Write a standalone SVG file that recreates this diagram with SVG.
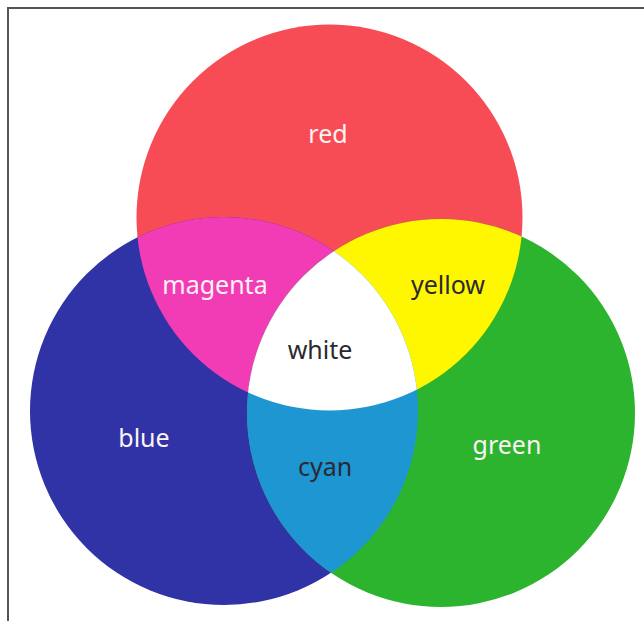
<svg xmlns="http://www.w3.org/2000/svg" width="644" height="621" viewBox="0 0 644 621">
<style>
.lbl{font-family:"Noto Sans","Open Sans","Liberation Sans",sans-serif;font-size:25px;text-anchor:middle}
.lt{fill:#fbf2f4}
.dk{fill:#2a2a30}
</style>
<defs>
<clipPath id="cRed"><circle cx="329.5" cy="217.5" r="193"/></clipPath>
<clipPath id="cBlue"><circle cx="224" cy="411" r="194"/></clipPath>
<clipPath id="cGreen"><circle cx="441" cy="413" r="194"/></clipPath>
</defs>
<rect width="644" height="621" fill="#ffffff"/>
<g id="frame" fill="none" stroke="#555" stroke-width="2">
<path d="M8 621 V8 H644"/>
</g>
<g id="red"><circle cx="329.5" cy="217.5" r="193" fill="#f74b55"/></g>
<g id="blue"><circle cx="224" cy="411" r="194" fill="#2f33a6"/></g>
<g id="green"><circle cx="441" cy="413" r="194" fill="#2db42f"/></g>
<g id="magenta" clip-path="url(#cRed)"><circle cx="224" cy="411" r="194" fill="#f23cb5"/></g>
<g id="yellow" clip-path="url(#cRed)"><circle cx="441" cy="413" r="194" fill="#fff700"/></g>
<g id="cyan" clip-path="url(#cBlue)"><circle cx="441" cy="413" r="194" fill="#1e96d2"/></g>
<g id="white" clip-path="url(#cRed)"><g clip-path="url(#cBlue)"><circle cx="441" cy="413" r="194" fill="#ffffff"/></g></g>
<g id="labels">
<text class="lbl lt" x="328" y="143">red</text>
<text class="lbl lt" x="215" y="294">magenta</text>
<text class="lbl dk" x="448" y="294">yellow</text>
<text class="lbl dk" x="320" y="359">white</text>
<text class="lbl lt" x="144" y="447">blue</text>
<text class="lbl dk" x="325" y="476">cyan</text>
<text class="lbl lt" x="507" y="454">green</text>
</g>
</svg>
